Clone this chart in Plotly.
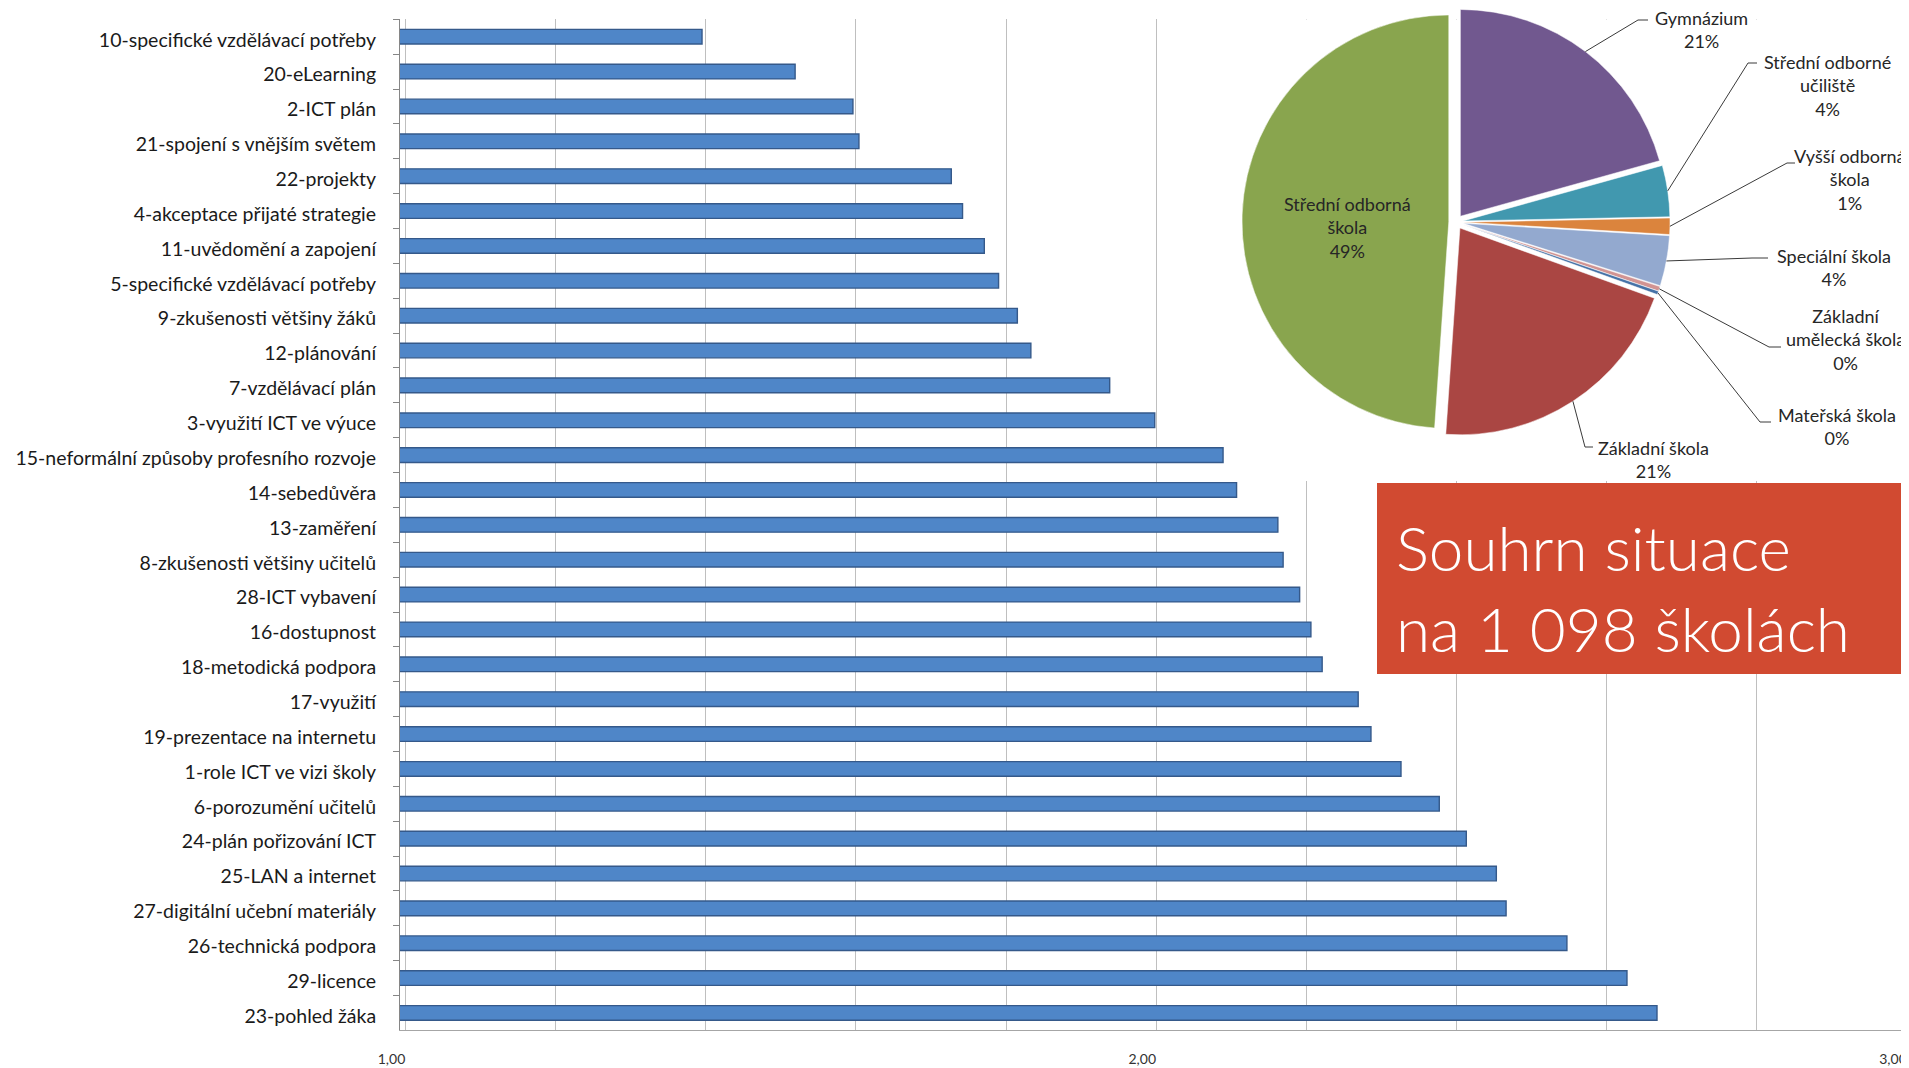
import numpy as np
import plotly.graph_objects as go

# ---------------- data ----------------
categories = [
    "10-specifické vzdělávací potřeby", "20-eLearning", "2-ICT plán",
    "21-spojení s vnějším světem", "22-projekty", "4-akceptace přijaté strategie",
    "11-uvědomění a zapojení", "5-specifické vzdělávací potřeby",
    "9-zkušenosti většiny žáků", "12-plánování", "7-vzdělávací plán",
    "3-využití ICT ve výuce", "15-neformální způsoby profesního rozvoje",
    "14-sebedůvěra", "13-zaměření", "8-zkušenosti většiny učitelů",
    "28-ICT vybavení", "16-dostupnost", "18-metodická podpora", "17-využití",
    "19-prezentace na internetu", "1-role ICT ve vizi školy",
    "6-porozumění učitelů", "24-plán pořizování ICT", "25-LAN a internet",
    "27-digitální učební materiály", "26-technická podpora", "29-licence",
    "23-pohled žáka",
]
scores = [
    1.395, 1.519, 1.596, 1.604, 1.727, 1.742, 1.771, 1.790, 1.815, 1.833,
    1.938, 1.998, 2.089, 2.107, 2.162, 2.169, 2.191, 2.206, 2.221, 2.269,
    2.286, 2.326, 2.377, 2.413, 2.453, 2.466, 2.547, 2.627, 2.667,
]
x_ticks = [1, 2, 3]
x_range = [0.9927, 3.0]

school_types = [
    "Gymnázium", "Střední odborné učiliště", "Vyšší odborná škola",
    "Speciální škola", "Základní umělecká škola", "Mateřská škola",
    "Základní škola", "Střední odborná škola",
]
school_counts = [227, 44, 14, 43, 4, 3, 226, 537]
school_colors = ["#71588F", "#4198AF", "#DB843D", "#93A9CF",
                 "#D19392", "#4572A7", "#AA4643", "#89A54E"]

summary_text = "Souhrn situace<br>na 1 098 školách"

# ---------------- layout constants (page pixel coordinates) ----------------
PAGE_OFF = 8            # default body margin of the html page
W, H = 1901, 1060
FONT = "Lato, 'Open Sans', sans-serif"


def px(x, y):
    """page pixel -> paper coordinates"""
    return (x - PAGE_OFF) / W, 1 - (y - PAGE_OFF) / H


PLOT_L, PLOT_R = 400, 1907     # page x of plot area
PLOT_T, PLOT_B = 19.3, 1030.4  # page y of plot area

wrap = {
    "Střední odborné učiliště": "Střední odborné<br>učiliště",
    "Vyšší odborná škola": "Vyšší odborná<br>škola",
    "Základní umělecká škola": "Základní<br>umělecká škola",
    "Střední odborná škola": "Střední odborná<br>škola",
}
label_pos = {
    "Gymnázium": (1701, 30),
    "Střední odborné učiliště": (1827, 85),
    "Vyšší odborná škola": (1850, 179),
    "Speciální škola": (1834, 268),
    "Základní umělecká škola": (1845, 339),
    "Mateřská škola": (1837, 426),
    "Základní škola": (1653, 459),
    "Střední odborná škola": (1347, 228),
}
leader = {
    "Gymnázium": [(1638, 20), (1648, 20)],
    "Střední odborné učiliště": [(1748, 63), (1757, 63)],
    "Vyšší odborná škola": [(1787, 163), (1795, 163)],
    "Speciální škola": [(1752, 258), (1768, 258)],
    "Základní umělecká škola": [(1769, 347), (1781, 347)],
    "Mateřská škola": [(1760, 422), (1771, 422)],
    "Základní škola": [(1585, 447), (1593, 447)],
}

# pie geometry (page px)
pull = 0.035
pie_x = (1242, 1670)
pie_y = (8, 436)
cx = (pie_x[0] + pie_x[1]) / 2
cy = (pie_y[0] + pie_y[1]) / 2
r = min(pie_x[1] - pie_x[0], pie_y[1] - pie_y[0]) / 2 / (1 + pull)

fig = go.Figure()

fig.add_trace(go.Bar(
    x=scores, y=categories, orientation="h", width=0.42,
    marker=dict(color="#4F86C8", line=dict(color="#35598A", width=1.4)),
    showlegend=False, hoverinfo="x+y",
))

px0, py1 = px(pie_x[0], pie_y[1])
px1, py0 = px(pie_x[1], pie_y[0])
fig.add_trace(go.Pie(
    labels=school_types, values=school_counts, sort=False,
    direction="clockwise", rotation=0, pull=[pull] * len(school_counts),
    marker=dict(colors=school_colors, line=dict(color="white", width=0.5)),
    textinfo="none", showlegend=False,
    domain=dict(x=[px0, px1], y=[max(py1, 0), min(py0, 1)]),
))

# pie labels and leader lines, computed from the slice angles
total = sum(school_counts)
cum = np.cumsum([0] + school_counts[:-1])
shapes = []
annotations = []
for name, cnt, c0 in zip(school_types, school_counts, cum):
    pct = f"{round(100 * cnt / total)}%"
    lx, ly = px(*label_pos[name])
    annotations.append(dict(
        x=lx, y=ly, xref="paper", yref="paper", showarrow=False,
        text=wrap.get(name, name) + "<br>" + pct, align="center",
        font=dict(family=FONT, size=18, color="#262626"),
        xanchor="center", yanchor="middle",
    ))
    if name in leader:
        theta = np.deg2rad(360 * (c0 + cnt / 2) / total)
        ex = cx + r * (1 + pull) * np.sin(theta)
        ey = cy - r * (1 + pull) * np.cos(theta)
        pts = [(ex, ey)] + leader[name]
        path = "M " + " L ".join("{},{}".format(*px(a, b)) for a, b in pts)
        shapes.append(dict(type="path", path=path, xref="paper", yref="paper",
                           line=dict(color="#3a3a3a", width=1), layer="above"))

# white mask behind the pie hiding the gridlines (axis units derived from page px)
unit = (PLOT_R - PLOT_L) / (x_range[1] - x_range[0])
row = (PLOT_B - PLOT_T) / len(categories)
mask_x0 = x_range[0] + (1200 - PLOT_L) / unit
mask_y1 = (481 - PLOT_T) / row - 0.5
shapes.append(dict(type="rect", xref="x", yref="y",
                   x0=mask_x0, x1=x_range[1], y0=-0.5, y1=mask_y1,
                   fillcolor="white", line=dict(width=0), layer="between"))

# red summary box
bx0, by0 = px(1377, 483)
bx1, by1 = px(1909, 674)
shapes.append(dict(type="rect", xref="paper", yref="paper",
                   x0=bx0, x1=bx1, y0=by1, y1=by0,
                   fillcolor="#D14A31", line=dict(width=0), layer="above"))
tx, ty = px(1394, 587)
annotations.append(dict(
    x=tx, y=ty, xref="paper", yref="paper", showarrow=False,
    text=summary_text, align="left", xanchor="left", yanchor="middle",
    font=dict(family=FONT, size=62, color="white", weight=300),
))

dx0, _ = px(PLOT_L, 0)
dx1, _ = px(PLOT_R, 0)
_, dy1 = px(0, PLOT_T)
_, dy0 = px(0, PLOT_B)

fig.update_layout(
    width=W, height=H,
    margin=dict(l=0, r=0, t=0, b=0, autoexpand=False),
    paper_bgcolor="white", plot_bgcolor="white",
    separators=", ",
    shapes=shapes, annotations=annotations,
    xaxis=dict(
        domain=[dx0, min(dx1, 1)], range=x_range, automargin=False,
        tickvals=x_ticks, tickformat=".2f",
        showgrid=True, gridcolor="#BFBFBF", gridwidth=1,
        minor=dict(dtick=0.2, tick0=1, showgrid=True, gridcolor="#BFBFBF", gridwidth=1),
        showline=True, linecolor="#A6A6A6", linewidth=1, ticks="",
        zeroline=False, ticklabelshift=-14, ticklabelstandoff=16,
        tickfont=dict(family=FONT, size=14, color="#333333"),
    ),
    yaxis=dict(
        domain=[dy0, dy1], automargin=False,
        categoryorder="array", categoryarray=categories,
        range=[len(categories) - 0.5, -0.5], autorange=False,
        showgrid=False, showline=True, linecolor="#868686", linewidth=1,
        ticks="outside", tickson="boundaries", ticklen=6, tickcolor="#868686",
        ticklabelstandoff=19, ticklabelshift=-3,
        tickfont=dict(family=FONT, size=19.5, color="#1a1a1a"),
    ),
)

fig.write_html("out.html")
